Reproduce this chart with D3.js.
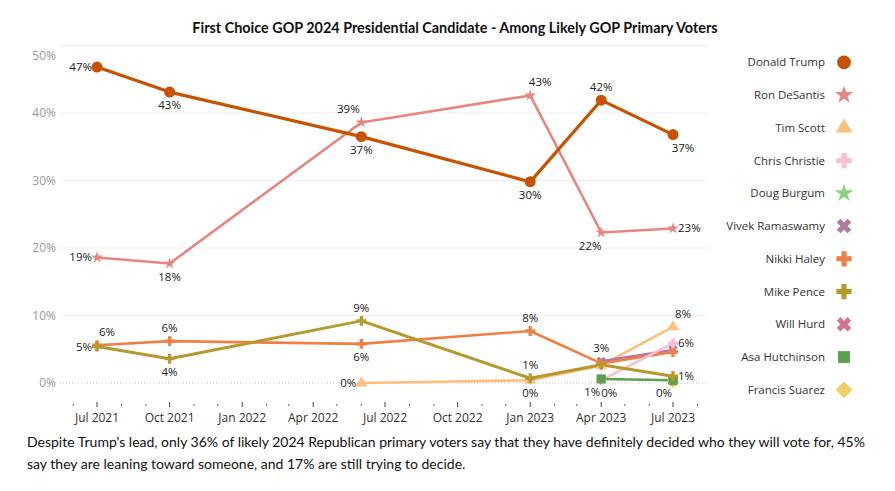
<!DOCTYPE html>
<html><head><meta charset="utf-8">
<script src="https://cdn.jsdelivr.net/npm/d3@7"></script>
<style>body{margin:0;background:#fff} svg{display:block}</style>
</head><body><svg id="c" width="895" height="491"></svg>
<script>
// ---------- DATA ----------
const surveyDates = ["2021-07-01","2021-10-01","2022-06-01","2023-01-01","2023-04-01","2023-07-01"];
const candidates = ["Donald Trump","Ron DeSantis","Tim Scott","Chris Christie","Doug Burgum","Vivek Ramaswamy","Nikki Haley","Mike Pence","Will Hurd","Asa Hutchinson","Francis Suarez"];
const trump      = [46.8, 43.1, 36.5, 29.8, 41.9, 36.8];
const desantis   = [18.6, 17.7, 38.6, 42.6, 22.3, 22.9];
const scott      = [null, null, 0.0, 0.4, 2.6, 8.3];
const christie   = [null, null, null, null, 0.4, 5.9];
const burgum     = [null, null, null, null, null, 0.3];
const ramaswamy  = [null, null, null, null, 3.2, 4.9];
const haley      = [5.6, 6.2, 5.8, 7.7, 2.9, 4.6];
const pence      = [5.4, 3.6, 9.2, 0.7, 2.7, 1.0];
const hurd       = [null, null, null, null, null, 0.3];
const hutchinson = [null, null, null, null, 0.6, 0.4];
const suarez     = [null, null, null, null, null, 0.2];
const seriesValues = [trump, desantis, scott, christie, burgum, ramaswamy, haley, pence, hurd, hutchinson, suarez];
const yTicks = [0, 10, 20, 30, 40, 50];
const xTickLabels = ["Jul 2021","Oct 2021","Jan 2022","Apr 2022","Jul 2022","Oct 2022","Jan 2023","Apr 2023","Jul 2023"];
// which points carry a value label, and where it sits
const pointLabels = [
  ["Donald Trump",0,"left"],["Donald Trump",1,"below"],["Donald Trump",2,"below"],["Donald Trump",3,"below"],["Donald Trump",4,"above"],["Donald Trump",5,"belowRight"],
  ["Ron DeSantis",0,"left"],["Ron DeSantis",1,"below"],["Ron DeSantis",2,"aboveLeft"],["Ron DeSantis",3,"aboveRight"],["Ron DeSantis",4,"belowLeft"],["Ron DeSantis",5,"right"],
  ["Nikki Haley",0,"aboveRight"],["Nikki Haley",1,"above"],["Nikki Haley",2,"below"],["Nikki Haley",3,"above"],
  ["Mike Pence",0,"left"],["Mike Pence",1,"below"],["Mike Pence",2,"above"],["Mike Pence",3,"above"],["Mike Pence",5,"right"],
  ["Tim Scott",2,"left"],["Tim Scott",3,"below"],["Tim Scott",5,"aboveRight"],
  ["Vivek Ramaswamy",4,"above"],
  ["Chris Christie",4,"belowRightNear"],["Chris Christie",5,"right"],
  ["Asa Hutchinson",4,"belowLeftNear"],["Asa Hutchinson",5,"belowLeftNear"]
];
const titleText = "First Choice GOP 2024 Presidential Candidate - Among Likely GOP Primary Voters";
const captionLines = [
  "Despite Trump's lead, only 36% of likely 2024 Republican primary voters say that they have definitely decided who they will vote for, 45%",
  "say they are leaning toward someone, and 17% are still trying to decide."
];

// ---------- STYLE ----------
const colors = {
  "Donald Trump":"#c85200","Ron DeSantis":"#e8857f","Tim Scott":"#ffbe7d","Chris Christie":"#fabfd2",
  "Doug Burgum":"#8cd17d","Vivek Ramaswamy":"#b07aa1","Nikki Haley":"#f07f46","Mike Pence":"#b6992d",
  "Will Hurd":"#d37295","Asa Hutchinson":"#59a14f","Francis Suarez":"#f1ce63"
};
const shapes = {
  "Donald Trump":["circle",0],"Ron DeSantis":["star",0],"Tim Scott":["triangle",0],"Chris Christie":["cross",0],
  "Doug Burgum":["star",0],"Vivek Ramaswamy":["cross",45],"Nikki Haley":["cross",0],"Mike Pence":["cross",0],
  "Will Hurd":["cross",45],"Asa Hutchinson":["square",0],"Francis Suarez":["square",45]
};
const symType = {circle:d3.symbolCircle, star:d3.symbolStar, triangle:d3.symbolTriangle, cross:d3.symbolCross, square:d3.symbolSquare};
const lineWidth = {"Donald Trump":3.2,"Mike Pence":3};
// bottom-to-top drawing order
const layerOrder = ["Francis Suarez","Will Hurd","Doug Burgum","Tim Scott","Vivek Ramaswamy","Nikki Haley","Chris Christie","Asa Hutchinson","Mike Pence","Ron DeSantis","Donald Trump"];

const svg = d3.select("#c");
const parse = d3.timeParse("%Y-%m-%d");
const x = d3.scaleTime().domain([parse("2021-07-01"), parse("2023-07-01")]).range([97, 673]);
const y = d3.scaleLinear().domain([0, 50]).range([383, 45.5]);
const plotL = 60, plotR = 708;

// gridlines
svg.append("g").selectAll("line").data(yTicks.filter(t => t > 0)).join("line")
  .attr("x1", plotL).attr("x2", plotR).attr("y1", d => y(d)).attr("y2", d => y(d))
  .attr("stroke", "#efefef").attr("stroke-width", 1);
svg.append("line").attr("x1", plotL).attr("x2", plotR).attr("y1", y(0)).attr("y2", y(0))
  .attr("stroke", "#c4c4c4").attr("stroke-width", 1).attr("stroke-dasharray", "1,2");

// y axis labels
svg.append("g").selectAll("text").data(yTicks).join("text")
  .attr("x", 56).attr("y", d => Math.max(y(d), y(50) + 10))
  .attr("dy", "0.35em").attr("text-anchor", "end")
  .attr("font-family", "Open Sans").attr("font-size", 12).attr("fill", "#9a9a9a")
  .text(d => d + "%");

// x axis ticks
const tickParse = d3.timeParse("%b %Y");
const majorDates = xTickLabels.map(tickParse);
const minorDates = d3.timeMonth.range(d3.timeMonth.offset(majorDates[0], -1), d3.timeMonth.offset(majorDates[majorDates.length-1], 2));
const gx = svg.append("g");
gx.selectAll("line.minor").data(minorDates.filter(d => d.getMonth() % 3 !== 0)).join("line")
  .attr("x1", d => x(d)).attr("x2", d => x(d)).attr("y1", 404).attr("y2", 406)
  .attr("stroke", "#666").attr("stroke-width", 1);
gx.selectAll("line.major").data(majorDates).join("line")
  .attr("x1", d => x(d)).attr("x2", d => x(d)).attr("y1", 402).attr("y2", 407)
  .attr("stroke", "#444").attr("stroke-width", 1);
gx.selectAll("text").data(majorDates).join("text")
  .attr("x", d => x(d)).attr("y", 422).attr("text-anchor", "middle")
  .attr("font-family", "Open Sans").attr("font-size", 12).attr("fill", "#333")
  .text(d => d3.timeFormat("%b %Y")(d));

// series
const series = candidates.map((name, i) => ({
  name, pts: surveyDates.map((d, j) => ({date: parse(d), v: seriesValues[i][j]}))
}));
const line = d3.line().defined(d => d.v != null).x(d => x(d.date)).y(d => y(d.v));
const drawOrder = layerOrder.map(n => series[candidates.indexOf(n)]);
const gS = svg.append("g");
drawOrder.forEach(s => {
  gS.append("path").datum(s.pts).attr("d", line).attr("fill", "none")
    .attr("stroke", colors[s.name]).attr("stroke-width", lineWidth[s.name] || 2.6)
    .attr("stroke-linejoin", "round");
});
function marker(g, name, cx, cy, size) {
  const [shape, rot] = shapes[name];
  g.append("path").attr("d", d3.symbol().type(symType[shape]).size(size)())
    .attr("transform", `translate(${cx},${cy}) rotate(${rot})`)
    .attr("fill", colors[name]);
}
const chartSize = {circle:95, star:42, triangle:60, cross:55, square:85};
drawOrder.forEach(s => {
  s.pts.filter(p => p.v != null).forEach(p => {
    marker(gS, s.name, x(p.date), y(p.v), chartSize[shapes[s.name][0]]);
  });
});

// value labels
const place = {
  above:[0,-13,"middle"], below:[0,13,"middle"], left:[-5,0,"end"], right:[5,0,"start"],
  aboveLeft:[-13,-13,"middle"], aboveRight:[10,-13,"middle"], belowLeft:[-11,13,"middle"], belowRight:[10,13,"middle"],
  belowLeftNear:[-9,13,"middle"], belowRightNear:[8,13,"middle"]
};
const gL = svg.append("g");
pointLabels.forEach(([name, idx, pos]) => {
  const s = series[candidates.indexOf(name)];
  const p = s.pts[idx];
  const [dx, dy, anchor] = place[pos];
  gL.append("text").attr("x", x(p.date) + dx).attr("y", y(p.v) + dy).attr("dy", "0.35em")
    .attr("text-anchor", anchor).attr("font-family", "Open Sans").attr("font-size", 11.5)
    .attr("fill", "#222").text(Math.round(p.v) + "%");
});

// legend
const gLeg = svg.append("g");
const legSize = {circle:150, star:105, triangle:120, cross:130, square:140};
candidates.forEach((name, i) => {
  const ly = 62.3 + i * 32.75;
  gLeg.append("text").attr("x", 825).attr("y", ly).attr("dy", "0.35em").attr("text-anchor", "end")
    .attr("font-family", "Open Sans").attr("font-size", 11.5).attr("fill", "#333").text(name);
  marker(gLeg, name, 844, ly, legSize[shapes[name][0]]);
});

// title & caption
svg.append("text").attr("x", 455).attr("y", 33).attr("text-anchor", "middle")
  .attr("font-family", "Lato").attr("font-weight", "bold").attr("font-size", 14.4).attr("fill", "#111")
  .text(titleText);
svg.append("g").selectAll("text").data(captionLines).join("text")
  .attr("x", 27).attr("y", (d, i) => 447 + i * 22)
  .attr("font-family", "Lato").attr("font-size", 14).attr("fill", "#111")
  .text(d => d);
</script></body></html>
